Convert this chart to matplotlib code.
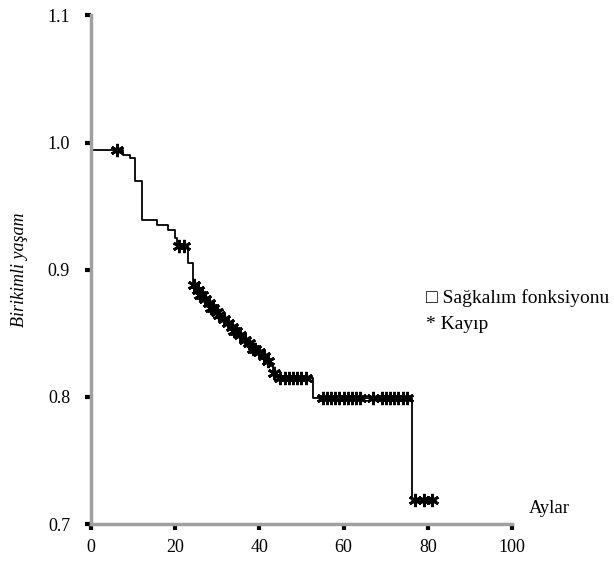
import numpy as np
from matplotlib import pyplot as plt

# Kaplan-Meier step data (months, cumulative survival)
step_t = [0, 7.6, 9.3, 10.5, 12.1, 15.7, 18.3, 20.0, 20.4, 23.0, 24.2,
          25.0, 25.8, 26.7, 27.5, 28.4, 29.3, 30.2, 31.0, 32.0, 33.0,
          34.0, 35.2, 36.0, 37.0, 38.2, 39.5, 40.5, 41.5, 42.5, 43.3,
          44.2, 52.7, 76.2]
step_s = [0.994, 0.990, 0.988, 0.970, 0.939, 0.935, 0.931, 0.925, 0.919, 0.905, 0.888,
          0.884, 0.880, 0.877, 0.874, 0.870, 0.867, 0.864, 0.861, 0.858, 0.855,
          0.852, 0.849, 0.845, 0.842, 0.838, 0.835, 0.832, 0.828, 0.824, 0.819,
          0.815, 0.799, 0.719]
end_t = 82

# censored observations (months)
censor_t = [6.2, 21, 22, 24.5, 25.5, 26, 26.5, 27, 28, 28.5, 29, 30, 30.5, 31.5,
            32.5, 33.5, 34, 34.5, 35.5, 36.5, 37.5, 38.5, 39, 40, 41, 42, 43.5,
            45, 46, 47, 48, 49, 50, 51, 55, 56, 57, 58, 59, 60, 61, 62, 63, 64,
            67, 69, 70, 71, 72, 73, 74, 75, 77, 79, 81]

xticks = [0, 20, 40, 60, 80, 100]
yticks = [0.7, 0.8, 0.9, 1.0, 1.1]

serif = ['Liberation Serif', 'DejaVu Serif']
plt.rcParams['font.family'] = serif

fig = plt.figure(figsize=(6.14, 5.62), dpi=100)
ax = fig.add_axes([0.148, 0.0676, 0.686, 0.905])

xs = step_t + [end_t]
ys = step_s + [step_s[-1]]
ax.step(xs, ys, where='post', color='black', lw=1.3, clip_on=False)

# y of each censor mark from the step function
idx = np.searchsorted(step_t, censor_t, side='right') - 1
cens_s = np.array(step_s)[idx]
ax.plot(censor_t, cens_s, ls='none', marker=(6, 2, 0), ms=9.5, mew=2.0,
        color='black', clip_on=False)

ax.set_xlim(0, 100)
ax.set_ylim(0.7, 1.1)
ax.set_xticks(xticks)
ax.set_yticks(yticks)
ax.set_xticklabels([str(v) for v in xticks])
ax.set_yticklabels(['%.1f' % v for v in yticks])

for s in ['top', 'right']:
    ax.spines[s].set_visible(False)
for s in ['left', 'bottom']:
    ax.spines[s].set_color('#a0a0a0')
    ax.spines[s].set_linewidth(2.5)

ax.tick_params(axis='both', direction='out', length=4, width=3,
               color='black', labelsize=13)
ax.tick_params(axis='y', pad=11)
ax.tick_params(axis='x', pad=7)

ax.set_ylabel('Birikimli yaşam', style='italic', fontsize=13, labelpad=14)
fig.text(0.895, 0.095, 'Aylar', fontsize=13.5, ha='center', va='center')
fig.text(0.693, 0.47, '□ Sağkalım fonksiyonu', fontsize=14, ha='left', va='center')
fig.text(0.693, 0.422, '* Kayıp', fontsize=14, ha='left', va='center')

fig.savefig('out.png', dpi=100)
